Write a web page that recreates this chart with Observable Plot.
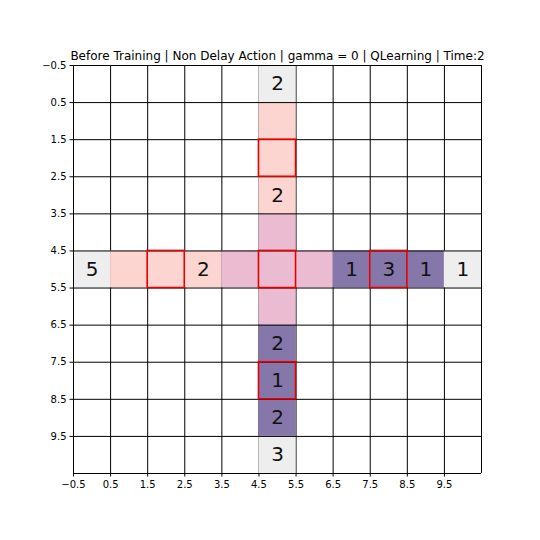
<!DOCTYPE html>
<html>
<head>
<meta charset="utf-8">
<script src="https://cdn.jsdelivr.net/npm/d3@7"></script>
<script src="https://cdn.jsdelivr.net/npm/@observablehq/plot@0.6"></script>
<style>
  html, body { margin: 0; padding: 0; background: #ffffff; }
  #chart { width: 540px; height: 540px; }
</style>
</head>
<body>
<div id="chart"></div>
<script>
const titleText = "Before Training | Non Delay Action | gamma = 0 | QLearning | Time:2";
const tickValues = [-0.5, 0.5, 1.5, 2.5, 3.5, 4.5, 5.5, 6.5, 7.5, 8.5, 9.5];
const gridLines = [-0.5, 0.5, 1.5, 2.5, 3.5, 4.5, 5.5, 6.5, 7.5, 8.5, 9.5, 10.5];

const cellRows  = [0, 1, 2, 3, 4, 5, 5, 5, 5, 5, 5, 5, 5, 5, 5, 5, 6, 7, 8, 9, 10];
const cellCols  = [5, 5, 5, 5, 5, 0, 1, 2, 3, 4, 5, 6, 7, 8, 9, 10, 5, 5, 5, 5, 5];
const cellShade = ["gray", "light", "light", "light", "mid",
                   "gray", "light", "light", "light", "mid", "mid", "mid", "dark", "dark", "dark", "gray",
                   "mid", "dark", "dark", "dark", "gray"];
const cellLabels = ["2", "", "", "2", "",
                    "5", "", "", "2", "", "", "", "1", "3", "1", "1",
                    "", "2", "1", "2", "3"];

const markedRows = [2, 5, 5, 5, 8];
const markedCols = [5, 2, 5, 8, 5];

const shadeNames  = ["gray", "light", "mid", "dark"];
const shadeColors = ["#eeeeee", "#fdd5d0", "#ebbbd1", "#8677ab"];

const cells = cellRows.map((r, i) => ({row: r, col: cellCols[i], shade: cellShade[i], label: cellLabels[i]}));
const marked = markedRows.map((r, i) => ({row: r, col: markedCols[i]}));
const innerV = gridLines.filter(v => v > -0.5 && v < 10.5);
const outerV = [-0.5, 10.5];

const fmt = d => (d < 0 ? "\u2212" + Math.abs(d) : String(d));
const font = "DejaVu Sans";

const chart = Plot.plot({
  width: 540,
  height: 540,
  marginLeft: 73,
  marginRight: 59,
  marginTop: 65,
  marginBottom: 67,
  style: {fontFamily: font, background: "#ffffff", color: "black"},
  x: {type: "linear", domain: [-0.5, 10.5]},
  y: {type: "linear", domain: [-0.5, 10.5], reverse: true},
  color: {type: "ordinal", domain: shadeNames, range: shadeColors},
  marks: [
    Plot.ruleX(innerV, {x: d => d, y1: -0.5, y2: 10.5, stroke: "black", strokeWidth: 1}),
    Plot.rect(cells, {x1: d => d.col - 0.5, x2: d => d.col + 0.5, y1: d => d.row - 0.5, y2: d => d.row + 0.5, fill: "shade"}),
    Plot.ruleY(gridLines, {y: d => d, x1: -0.5, x2: 10.5, stroke: "black", strokeWidth: 1}),
    Plot.ruleX(outerV, {x: d => d, y1: -0.5, y2: 10.5, stroke: "black", strokeWidth: 1}),
    Plot.rect(marked, {x1: d => d.col - 0.5, x2: d => d.col + 0.5, y1: d => d.row - 0.5, y2: d => d.row + 0.5, fill: "none", stroke: "#e60000", strokeWidth: 1.6}),
    Plot.text(cells.filter(d => d.label !== ""), {x: "col", y: "row", text: "label", fontSize: 20, fontFamily: font, fill: "#111111"}),
    Plot.text([titleText], {x: 5, y: -0.5, text: d => d, dy: -6, lineAnchor: "bottom", fontSize: 12, fontFamily: font, fill: "black"}),
    Plot.axisX(tickValues, {anchor: "bottom", tickSize: 3.5, tickPadding: 3.5, tickFormat: fmt, fontSize: 10, label: null, stroke: "black", fill: "black"}),
    Plot.axisY(tickValues, {anchor: "left", tickSize: 3.5, tickPadding: 3.5, tickFormat: fmt, fontSize: 10, label: null, stroke: "black", fill: "black"})
  ]
});
document.getElementById("chart").appendChild(chart);
</script>
</body>
</html>
